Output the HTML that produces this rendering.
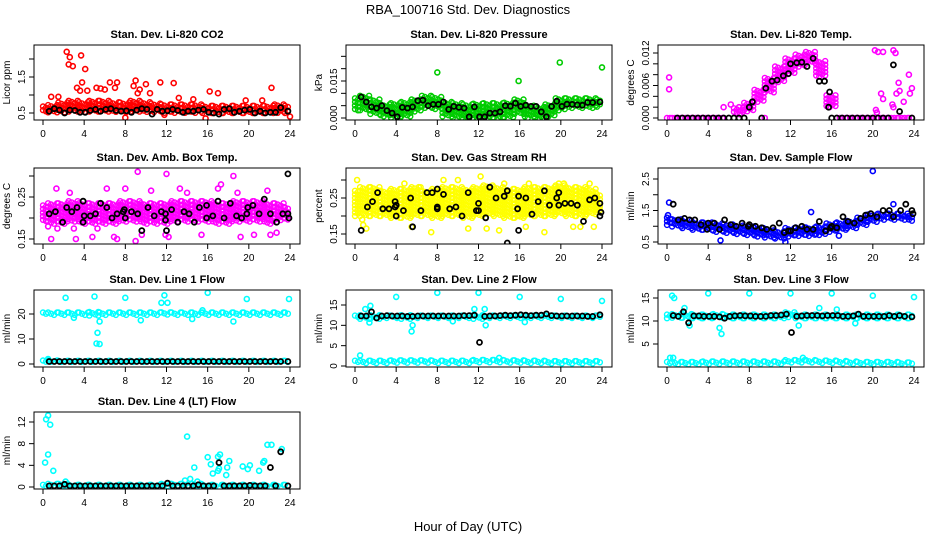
<!DOCTYPE html>
<html><head><meta charset="utf-8"><style>
html,body{margin:0;padding:0;background:#fff;}
svg{display:block;font-family:"Liberation Sans",Arial,sans-serif;}
</style></head><body>
<svg id="chart" width="936" height="540" viewBox="0 0 936 540" xmlns="http://www.w3.org/2000/svg">
<rect x="0" y="0" width="936" height="540" fill="#fff"/>
<text x="468" y="14" text-anchor="middle" font-size="13">RBA_100716  Std. Dev. Diagnostics</text>
<text x="468" y="531" text-anchor="middle" font-size="13">Hour of Day (UTC)</text>
</svg>
<script>
// ---- shared categories ----
const hours = [0,1,2,3,4,5,6,7,8,9,10,11,12,13,14,15,16,17,18,19,20,21,22,23,24];
const halfHours = [0.6,1.1,1.6,2.1,2.6,3.1,3.6,4.1,4.6,5.1,5.6,6.1,6.6,7.1,7.6,8.1,8.6,9.1,9.6,10.1,10.6,11.1,11.6,12.1,12.6,13.1,13.6,14.1,14.6,15.1,15.6,16.1,16.6,17.1,17.6,18.1,18.6,19.1,19.6,20.1,20.6,21.1,21.6,22.1,22.6,23.1,23.8];
const xTicks = [0,4,8,12,16,20,24];

// ---- P1 CO2 ----
const co2Mid = [0.6,0.62,0.65,0.68,0.66,0.68,0.68,0.66,0.65,0.68,0.66,0.64,0.62,0.62,0.62,0.62,0.6,0.6,0.6,0.6,0.6,0.6,0.6,0.62,0.6];
const co2Spr = [0.08,0.1,0.14,0.16,0.14,0.16,0.16,0.14,0.14,0.16,0.14,0.12,0.12,0.12,0.12,0.12,0.1,0.1,0.1,0.1,0.1,0.1,0.1,0.12,0.1];
const co2OutX = [2.3,2.6,2.5,2.9,3.7,4.1,3.3,3.8,3.6,5.2,6.5,7.2,7.0,8.8,9.0,9.4,10.0,11.4,12.7,16.2,17.0,22.2,1.5,0.8,11.8,15.8,24.0,8.0,4.3,5.6,6.0,9.2,10.4,13.2,14.6,19.7,21.3];
const co2OutY = [2.2,2.05,1.85,1.8,2.1,1.72,1.2,1.35,1.12,1.2,1.35,1.35,1.2,1.25,1.4,1.15,1.3,1.35,1.33,1.1,1.05,1.2,0.95,0.95,0.45,0.35,0.4,0.37,1.12,1.18,1.15,1.05,1.05,0.92,0.88,0.85,0.85];
const co2BlkY = [0.55,0.62,0.58,0.5,0.58,0.57,0.52,0.52,0.57,0.6,0.55,0.6,0.62,0.57,0.55,0.56,0.52,0.58,0.62,0.6,0.47,0.6,0.55,0.56,0.6,0.57,0.52,0.55,0.55,0.58,0.6,0.52,0.5,0.47,0.6,0.62,0.52,0.55,0.58,0.6,0.5,0.55,0.5,0.52,0.52,0.65,0.55];

// ---- P2 Pressure ----
const presMid = [0.0055,0.006,0.0045,0.003,0.003,0.0035,0.005,0.0065,0.006,0.0035,0.003,0.0025,0.0028,0.003,0.003,0.0032,0.0045,0.0025,0.002,0.003,0.0055,0.006,0.006,0.006,0.006];
const presSpr = [0.0025,0.003,0.003,0.0025,0.003,0.003,0.0025,0.0025,0.0025,0.003,0.003,0.003,0.003,0.003,0.003,0.003,0.003,0.0025,0.0025,0.0025,0.0025,0.002,0.002,0.002,0.0015];
const presOutX = [8.0,15.9,19.9,24.0];
const presOutY = [0.0185,0.015,0.0225,0.0205];
const presBlkY = [0.0085,0.0065,0.0045,0.004,0.005,0.003,0.002,0.0005,0.0043,0.004,0.0045,0.007,0.0072,0.005,0.0055,0.0055,0.0065,0.0035,0.0047,0.0043,0.004,0.0005,0.0045,0.0005,0.0005,0.002,0.002,0.0025,0.005,0.0048,0.006,0.0047,0.0052,0.0047,0.0047,0.0025,0.0005,0.0047,0.0068,0.0047,0.0056,0.0055,0.0053,0.0052,0.0063,0.0063,0.0065];

// ---- P3 Li-820 Temp ----
const tempMid = [0,0,0,0,0,0,null,0.0012,0.002,0.004,0.006,0.008,0.0095,0.0105,0.0112,0.009,0.003,0,0,0,0,0,0,0,0];
const tempSpr = [0,0,0,0,0,0,null,0.0006,0.0008,0.0012,0.0014,0.0015,0.0015,0.0012,0.001,0.0015,0.0012,0,0,0,0,0,0,0,0];
const tempOutX = [0.2,0.2,5.5,6.2,20.2,20.5,21.0,20.8,21.0,20.3,20.4,22.0,22.2,22.5,22.6,22.3,23.5,23.6,23.8,23.0,21.9,22.0,9.5,7.0];
const tempOutY = [0.0075,0.0053,0.002,0.0025,0.0125,0.0122,0.0122,0.0045,0.0035,0.0015,0.001,0.0125,0.012,0.0065,0.005,0.0045,0.008,0.0045,0.0055,0.003,0.0025,0.002,0,0.002];
const tempBlkX = [1,1.5,2,2.5,3,3.5,4,4.5,5,5.5,6,6.5,7,7.5,8,8.3,9.2,9.6,10.2,10.7,11.3,11.8,12.0,12.6,13.1,13.6,14.2,14.8,15.3,15.8,15.7,16.0,16.5,17,17.5,18,18.5,19,19.5,20,20.5,21,21.5,22.0,22.6,23.8];
const tempBlkY = [0,0,0,0,0,0,0,0,0,0,0,0,0,0,0.002,0.003,0,0.0055,0.0068,0.007,0.0078,0.0082,0.01,0.0102,0.0103,0.0095,0.011,0.0068,0.0068,0.0048,0.002,0,0,0,0,0,0,0,0,0,0,0,0,0.0098,0.0012,0];

// ---- P4 Amb Box Temp ----
const boxMid = [0.21,0.21,0.21,0.215,0.21,0.21,0.21,0.21,0.215,0.215,0.21,0.21,0.21,0.215,0.215,0.215,0.215,0.21,0.21,0.215,0.215,0.215,0.21,0.215,0.21];
const boxSpr = [0.02,0.025,0.025,0.025,0.025,0.025,0.025,0.025,0.025,0.025,0.025,0.025,0.025,0.025,0.025,0.025,0.025,0.025,0.025,0.025,0.025,0.025,0.025,0.02,0.015];
const boxOutX = [0.8,1.3,3.2,4.8,6.2,6.9,7.2,8.0,9.2,9.0,12.0,12.2,10.5,11.9,13.3,15.4,17.0,17.3,18.5,18.9,19.2,20.5,21.8,22.1,22.7,0.5,2.6,1.4,5.3,3.0,9.6,14.0];
const boxOutY = [0.15,0.27,0.15,0.155,0.27,0.155,0.15,0.27,0.31,0.145,0.305,0.155,0.265,0.16,0.27,0.16,0.27,0.28,0.3,0.26,0.155,0.16,0.265,0.16,0.165,0.18,0.26,0.175,0.175,0.175,0.16,0.26];
const boxBlkX = [0.6,1.2,1.9,2.3,2.8,3.3,3.9,3.9,4.0,4.6,5.1,5.6,6.2,6.7,7.2,7.8,7.9,8.0,8.6,9.2,9.6,10.2,10.8,11.5,11.9,11.9,12.0,12.5,13.1,13.7,14.2,14.7,15.2,15.9,15.9,16.5,17.0,17.6,18.2,18.8,19.3,19.8,19.9,20.4,21.0,21.5,22.1,22.7,23.3,23.8,23.9,23.8];
const boxBlkY = [0.21,0.215,0.19,0.225,0.215,0.225,0.24,0.19,0.205,0.205,0.21,0.235,0.225,0.2,0.21,0.215,0.22,0.2,0.215,0.21,0.17,0.225,0.205,0.215,0.21,0.195,0.17,0.22,0.19,0.215,0.21,0.19,0.225,0.23,0.2,0.205,0.24,0.2,0.235,0.205,0.2,0.21,0.225,0.23,0.21,0.245,0.21,0.19,0.21,0.21,0.2,0.305];

// ---- P5 Gas Stream RH ----
const rhMid = [0.235,0.24,0.24,0.235,0.235,0.235,0.24,0.235,0.235,0.24,0.24,0.235,0.24,0.245,0.24,0.235,0.235,0.24,0.24,0.24,0.245,0.24,0.24,0.24,0.235];
const rhSpr = [0.035,0.04,0.04,0.035,0.04,0.04,0.04,0.035,0.04,0.04,0.04,0.04,0.04,0.04,0.04,0.04,0.04,0.04,0.04,0.04,0.04,0.04,0.04,0.035,0.025];
const rhOutX = [0.2,0.7,0.8,1.1,3.4,4.8,5.5,7.4,8.6,10.0,11.0,12.2,12.8,14.0,14.5,15.8,16.6,16.9,18.4,19.8,20.3,21.2,21.9,22.8,23.2,1.5,6.2];
const rhOutY = [0.3,0.19,0.175,0.165,0.2,0.29,0.17,0.155,0.3,0.3,0.165,0.31,0.165,0.16,0.29,0.2,0.17,0.29,0.155,0.29,0.29,0.17,0.17,0.29,0.17,0.28,0.28];
const rhBlkX = [0.6,1.2,1.7,2.2,2.7,3.3,3.9,3.9,4.0,4.0,4.7,5.4,5.6,6.4,7.0,7.5,8.0,8.0,8.0,8.6,9.2,9.8,10.4,11.0,11.8,12.0,12.0,12.7,13.1,13.7,14.5,14.8,14.8,15.8,15.9,15.9,16.6,17.2,17.8,18.4,18.9,19.6,19.8,19.8,20.4,21.0,21.6,22.2,22.8,23.3,23.8,23.9,23.8];
const rhBlkY = [0.16,0.225,0.24,0.265,0.22,0.22,0.24,0.225,0.2,0.23,0.215,0.25,0.17,0.215,0.265,0.265,0.275,0.225,0.22,0.26,0.22,0.225,0.2,0.265,0.215,0.235,0.215,0.195,0.28,0.25,0.255,0.27,0.125,0.22,0.255,0.16,0.25,0.205,0.24,0.27,0.23,0.25,0.265,0.23,0.235,0.235,0.23,0.185,0.245,0.25,0.235,0.21,0.2];

// ---- P6 Sample Flow ----
const sfMid = [1.15,1.1,1.05,1.0,1.0,0.95,0.92,0.88,0.85,0.8,0.75,0.72,0.8,0.82,0.82,0.85,0.95,1.0,1.05,1.15,1.25,1.3,1.3,1.3,1.25];
const sfSpr = [0.12,0.12,0.12,0.12,0.12,0.14,0.14,0.14,0.14,0.14,0.12,0.12,0.14,0.14,0.14,0.14,0.14,0.12,0.12,0.12,0.12,0.1,0.1,0.1,0.08];
const sfOutX = [0.2,20.0,14.0,22.0,5.2,11.5,0.1,16.7];
const sfOutY = [1.75,2.75,1.45,1.7,0.55,0.5,1.35,0.7];
const sfBlkX = [0.6,1.1,1.7,2.2,2.7,3.3,3.9,4.0,4.6,5.1,5.6,6.2,6.7,7.3,7.9,8.0,8.6,9.2,9.7,10.3,10.9,11.4,11.8,12.0,12.5,13.1,13.6,14.2,14.8,15.4,15.9,16.0,16.5,17.1,17.6,18.2,18.8,19.3,19.8,20.4,21.0,21.6,22.0,22.7,23.2,23.8,23.9];
const sfBlkY = [1.7,1.2,1.25,1.2,1.2,1.05,0.9,1.1,1.1,0.9,1.2,1.05,1.0,1.1,1.0,1.05,1.0,0.95,0.9,0.95,1.1,0.8,0.85,0.85,0.95,1.0,0.9,0.9,1.15,0.85,0.95,1.0,0.95,1.3,1.15,1.1,1.25,1.35,1.4,1.3,1.5,1.5,1.3,1.5,1.7,1.5,1.4];

// ---- P7 Line 1 ----
const l1TopMid = [20,20,20,20,20,20,20,20,20,20,20,20,20,20,20,20,20,20,20,20,20,20,20,20,20];
const l1TopSpr = [0.6,0.6,0.6,0.6,0.6,0.8,0.6,0.6,0.6,0.6,0.6,0.6,0.7,0.6,0.6,0.6,0.6,0.6,0.6,0.6,0.6,0.6,0.6,0.6,0.6];
const l1BotMid = [1,1,1,1,1,1,1,1,1,1,1,1,1,1,1,1,1,1,1,1,1,1,1,1,1];
const l1BotSpr = [0.4,0.4,0.3,0.3,0.3,0.3,0.3,0.3,0.3,0.3,0.3,0.3,0.3,0.3,0.3,0.3,0.3,0.3,0.3,0.3,0.3,0.3,0.3,0.3,0.3];
const l1OutX = [2.2,5.0,8.0,11.8,11.5,12.1,16.0,19.8,23.9,5.3,5.2,5.5,5.5,3.0,9.5,15.5,18.5,14.5,0.5];
const l1OutY = [26.5,27,26.5,27.5,24.5,24.5,28.5,26,26,12.5,8.2,8,17,18.5,17.5,21.5,17,18,2];
const l1BlkY = [1,1,1,1,1,1,1,1,1,1,1,1,1,1,1,1,1,1,1,1,1,1,1,1,1,1,1,1,1,1,1,1,1,1,1,1,1,1,1,1,1,1,1,1,1,1,1];

// ---- P8 Line 2 ----
const l2TopMid = [12,12,12,12,12,12,12,12,12,12,12,12,12,12,12,12,12,12,12,12,12,12,12,12,12];
const l2TopSpr = [0.4,0.5,0.5,0.4,0.4,0.5,0.4,0.4,0.4,0.4,0.4,0.4,0.5,0.4,0.4,0.4,0.4,0.4,0.4,0.4,0.4,0.4,0.4,0.4,0.4];
const l2BotMid = [1,1,1,1,1.1,1.1,1.1,1.1,1.0,1.0,1.0,1.0,1.2,1.2,1.2,1.1,1.1,1.0,1.0,0.9,0.9,0.9,0.9,0.9,0.9];
const l2BotSpr = [0.3,0.3,0.3,0.3,0.3,0.3,0.3,0.3,0.3,0.3,0.3,0.3,0.3,0.3,0.3,0.3,0.3,0.3,0.3,0.3,0.3,0.3,0.3,0.3,0.3];
const l2OutX = [4.0,8.0,12.0,16.0,20.0,24.0,1.5,1.0,0.5,12.6,5.5,5.6,12.7,1.4,9.5,16.5,11.6,14.0];
const l2OutY = [17,18,18,17,16.5,16,14.8,14,2.6,14,8.5,10,10,10.7,11,10.8,14,2];
const l2BlkY = [12.3,12.3,13.3,11.8,12.3,12.4,12.3,12.3,12.3,12.2,12.2,12.3,12.3,12.3,12.3,12.3,12.3,12.3,12.3,12.3,12.4,12.4,12.5,5.8,12.2,12.3,12.3,12.4,12.5,12.4,12.5,12.6,12.5,12.4,12.5,12.5,12.8,12.4,12.3,12.3,12.3,12.3,12.3,12.3,12.2,12.2,12.6];

// ---- P9 Line 3 ----
const l3TopMid = [11,11,11,11,11,11,11,11,11,11,11,11,11.3,11,11,11,11,11,11,11,11,11,11,11,11];
const l3TopSpr = [0.4,0.5,0.5,0.4,0.4,0.5,0.4,0.4,0.4,0.4,0.4,0.4,0.6,0.4,0.4,0.4,0.4,0.4,0.4,0.4,0.4,0.4,0.4,0.4,0.4];
const l3BotMid = [0.8,0.8,0.8,0.8,0.9,0.9,0.9,0.9,0.9,0.9,0.9,0.9,1.2,1.2,1.2,1.1,1.1,1.0,0.9,0.8,0.8,0.8,0.8,0.7,0.7];
const l3BotSpr = [0.3,0.3,0.3,0.3,0.3,0.3,0.3,0.3,0.3,0.3,0.3,0.3,0.3,0.3,0.3,0.3,0.3,0.3,0.3,0.3,0.3,0.3,0.3,0.3,0.3];
const l3OutX = [0.5,0.7,4.0,8.0,12.0,16.0,20.0,24.0,5.1,5.3,16.5,0.3,0.6,18.3,1.7,12.8,14.8,13.2,2.2];
const l3OutY = [15.5,15,16,16,16,16,15.5,15.2,8.5,7.2,12.5,2,2,9.5,12.8,9.0,12.8,2.0,9.0];
const l3BlkY = [11.2,11,12,9.6,11.1,11.1,11.0,11,11,10.9,10.6,11,11.1,11.2,11.1,11.1,11,11,11,11.2,11.2,11.3,11.5,7.5,11,11.1,11.2,11.2,11.2,11.1,11.2,11.2,11.2,11,11,11.1,11.5,11,11,11,11,11,11.2,11,11.2,11,10.9];

// ---- P10 Line 4 ----
const l4Mid = [0.2,0.3,0.3,0.2,0.2,0.2,0.2,0.2,0.2,0.2,0.2,0.2,0.3,0.3,0.3,0.3,0.2,0.2,0.2,0.2,0.2,0.2,0.2,0.2,0.2];
const l4Spr = [0.2,0.3,0.3,0.2,0.2,0.2,0.2,0.2,0.2,0.2,0.2,0.2,0.3,0.3,0.3,0.3,0.2,0.2,0.2,0.2,0.2,0.2,0.2,0.2,0.2];
const l4OutX = [0.2,0.3,0.5,0.7,0.5,1.0,14.0,14.7,16.0,16.3,16.5,17.0,17.0,17.2,17.1,17.8,17.9,18.1,19.4,19.9,20.1,21.0,21.4,21.5,21.8,22.2,23.2,13.8,14.3,15.0,2.2];
const l4OutY = [4.5,12.5,13.2,11.5,6,3,9.3,3.6,5.5,4.2,2.5,3,5.6,6,3.4,2.2,3.6,4.8,3.8,3.3,4,3,4.5,4.8,7.8,7.8,7,1.2,1.5,1,1];
const l4BlkY = [0.2,0.2,0.2,0.5,0.2,0.2,0.2,0.2,0.2,0.2,0.2,0.2,0.2,0.2,0.2,0.2,0.2,0.2,0.2,0.2,0.2,0.2,0.2,0.7,0.2,0.2,0.2,0.2,0.2,0.4,0.2,0.2,0.2,4.5,0.2,0.2,0.2,0.2,0.2,0.3,0.2,0.2,0.2,3.6,0.2,6.5,0.2];

const svg = document.getElementById('chart');
const NS = 'http://www.w3.org/2000/svg';
function mk(tag, attrs, parent){ const e=document.createElementNS(NS,tag); for(const k in attrs) e.setAttribute(k,attrs[k]); (parent||svg).appendChild(e); return e; }

const cols = [{x0:34,x1:300,p0:43,p24:290},{x0:346,x1:612,p0:355,p24:602},{x0:658,x1:924,p0:667,p24:914}];
const rows = [{y0:45,y1:120},{y0:168,y1:244},{y0:290,y1:367},{y0:412,y1:489}];

const panels = [
 {name:'co2',c:0,r:0,title:'Stan. Dev. Li-820 CO2',ylab:'Licor ppm',ya:[0.5,113,1.5,77],yt:[0.5,1,1.5,2],yl:['0.5','','1.5',''],color:'#ff0000',
  bands:[[co2Mid,co2Spr]],out:[co2OutX,co2OutY],blk:[halfHours,co2BlkY]},
 {name:'pressure',c:1,r:0,title:'Stan. Dev. Li-820 Pressure',ylab:'kPa',ya:[0,118,0.015,81],yt:[0,0.005,0.01,0.015,0.02,0.025],yl:['0.000','','','0.015','',''],color:'#00cc00',
  bands:[[presMid,presSpr]],out:[presOutX,presOutY],blk:[halfHours,presBlkY]},
 {name:'li820-temp',c:2,r:0,title:'Stan. Dev. Li-820 Temp.',ylab:'degrees C',ya:[0,118,0.012,53],yt:[0,0.002,0.004,0.006,0.008,0.01,0.012],yl:['0.000','','','0.006','','','0.012'],color:'#ff00ff',
  bands:[[tempMid,tempSpr]],out:[tempOutX,tempOutY],blk:[tempBlkX,tempBlkY]},
 {name:'box-temp',c:0,r:1,title:'Stan. Dev. Amb. Box Temp.',ylab:'degrees C',ya:[0.15,239,0.25,197],yt:[0.15,0.2,0.25,0.3],yl:['0.15','','0.25',''],color:'#ff00ff',
  bands:[[boxMid,boxSpr]],out:[boxOutX,boxOutY],blk:[boxBlkX,boxBlkY]},
 {name:'gas-rh',c:1,r:1,title:'Stan. Dev. Gas Stream RH',ylab:'percent',ya:[0.15,234,0.25,198],yt:[0.15,0.2,0.25,0.3],yl:['0.15','','0.25',''],color:'#ffff00',
  bands:[[rhMid,rhSpr]],out:[rhOutX,rhOutY],blk:[rhBlkX,rhBlkY]},
 {name:'sample-flow',c:2,r:1,title:'Stan. Dev. Sample Flow',ylab:'ml/min',ya:[0.5,242,2.5,179],yt:[0.5,1,1.5,2,2.5],yl:['0.5','','1.5','','2.5'],color:'#0000ff',
  bands:[[sfMid,sfSpr]],out:[sfOutX,sfOutY],blk:[sfBlkX,sfBlkY]},
 {name:'line1-flow',c:0,r:2,title:'Stan. Dev. Line 1 Flow',ylab:'ml/min',ya:[0,364,20,314],yt:[0,10,20],yl:['0','10','20'],color:'#00ffff',
  bands:[[l1TopMid,l1TopSpr],[l1BotMid,l1BotSpr]],out:[l1OutX,l1OutY],blk:[halfHours,l1BlkY]},
 {name:'line2-flow',c:1,r:2,title:'Stan. Dev. Line 2 Flow',ylab:'ml/min',ya:[0,366,15,305],yt:[0,5,10,15],yl:['0','5','10','15'],color:'#00ffff',
  bands:[[l2TopMid,l2TopSpr],[l2BotMid,l2BotSpr]],out:[l2OutX,l2OutY],blk:[halfHours,l2BlkY]},
 {name:'line3-flow',c:2,r:2,title:'Stan. Dev. Line 3 Flow',ylab:'ml/min',ya:[5,344,15,298],yt:[5,10,15],yl:['5','10','15'],color:'#00ffff',
  bands:[[l3TopMid,l3TopSpr],[l3BotMid,l3BotSpr]],out:[l3OutX,l3OutY],blk:[halfHours,l3BlkY]},
 {name:'line4-flow',c:0,r:3,title:'Stan. Dev. Line 4 (LT) Flow',ylab:'ml/min',ya:[0,487,12,422],yt:[0,4,8,12],yl:['0','4','8','12'],color:'#00ffff',
  bands:[[l4Mid,l4Spr]],out:[l4OutX,l4OutY],blk:[halfHours,l4BlkY]}
];

panels.forEach(p=>{
  const C=cols[p.c], R=rows[p.r];
  const xs = v => C.p0 + (C.p24-C.p0)*v/24;
  const ys = v => p.ya[1] + (v-p.ya[0])*(p.ya[3]-p.ya[1])/(p.ya[2]-p.ya[0]);
  const g = mk('g',{});
  
  
  const clipId='clip-'+p.name;
  const cp=mk('clipPath',{id:clipId},g); mk('rect',{x:C.x0,y:R.y0,width:C.x1-C.x0,height:R.y1-R.y0},cp);
  const marks = mk('g',{'clip-path':'url(#'+clipId+')'},g);
  
  
  const circ=(x,y,col,sw)=>mk('circle',{cx:x.toFixed(1),cy:y.toFixed(1),r:2.5,fill:'none',stroke:col,'stroke-width':sw},marks);
  p.bands.forEach(b=>{
    const mid=b[0], spr=b[1];
    hours.forEach((h,i)=>{
      if(mid[i]===null) return;
      const top=ys(mid[i]+spr[i]), bot=ys(mid[i]-spr[i]);
      const xa=xs(Math.max(0,h-0.5)), xb=xs(Math.min(24,h+0.5));
      let k=0;
      for(let x=xa; x<=xb; x+=3, k++){
        const off=(k%3)*1.2;
        if(Math.abs(bot-top)<1){ circ(x,top,p.color,1.4); continue; }
        for(let y=top+off; y<=bot; y+=3.6) circ(x,y,p.color,1.4);
      }
    });
  });
  p.out[0].forEach((x,i)=>circ(xs(x),ys(p.out[1][i]),p.color,1.6));
  p.blk[0].forEach((x,i)=>circ(xs(x),ys(p.blk[1][i]),'#000',1.8));
  mk('rect',{x:C.x0,y:R.y0,width:C.x1-C.x0,height:R.y1-R.y0,fill:'none',stroke:'#000','stroke-width':1},g);
  const xa=mk('g',{},g);
  
  
  mk('line',{x1:xs(0),x2:xs(24),y1:R.y1,y2:R.y1,stroke:'#000'},xa);
  xTicks.forEach(t=>{
    mk('line',{x1:xs(t),x2:xs(t),y1:R.y1,y2:R.y1+5,stroke:'#000'},xa);
    const tx=mk('text',{x:xs(t),y:R.y1+17,'text-anchor':'middle','font-size':10},xa); tx.textContent=t;
  });
  const ya=mk('g',{},g);
  
  
  mk('line',{x1:C.x0,x2:C.x0,y1:ys(p.yt[0]),y2:ys(p.yt[p.yt.length-1]),stroke:'#000'},ya);
  p.yt.forEach((t,i)=>{
    const y=ys(t);
    mk('line',{x1:C.x0-5,x2:C.x0,y1:y,y2:y,stroke:'#000'},ya);
    if(p.yl[i]){ const tx=mk('text',{x:C.x0-9,y:y,'text-anchor':'middle','font-size':10,transform:'rotate(-90 '+(C.x0-9)+' '+y+')'},ya); tx.textContent=p.yl[i]; }
  });
  const cy=(R.y0+R.y1)/2, lx=C.x0-24;
  const yl=mk('text',{x:lx,y:cy,'text-anchor':'middle','font-size':10,transform:'rotate(-90 '+lx+' '+cy+')'},g);
  yl.textContent=p.ylab;
  
  
  const tt=mk('text',{x:(C.x0+C.x1)/2,y:R.y0-7,'text-anchor':'middle','font-size':11,'font-weight':'bold'},g);
  tt.textContent=p.title;
  
  
});
</script>
</body></html>
